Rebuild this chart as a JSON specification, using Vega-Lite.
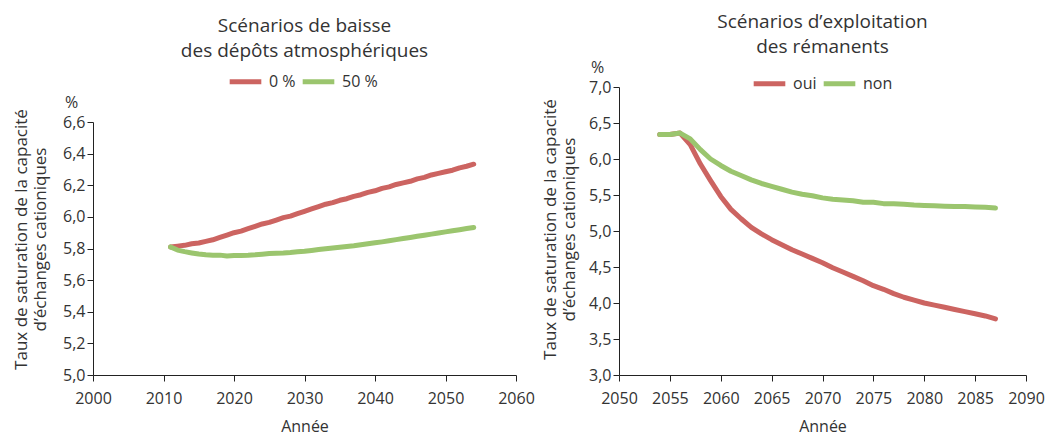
{
  "$schema": "https://vega.github.io/schema/vega-lite/v6.json",
  "background": "white",
  "padding": {"left": 12, "top": 13, "right": 5, "bottom": 0},
  "spacing": 6,
  "resolve": {"scale": {"color": "independent"}, "legend": {"color": "independent"}},
  "config": {
    "font": "Open Sans",
    "locale": {"number": {"decimal": ",", "thousands": " ", "grouping": [3], "currency": ["", " €"]}},
    "view": {"stroke": null},
    "axis": {"labelFontSize": 16, "titleFontSize": 16, "titleFontWeight": "normal", "labelColor": "#333", "titleColor": "#333", "domainColor": "#222", "tickColor": "#222", "grid": false, "tickSize": 6, "labelOverlap": false, "labelFlush": false},
    "axisX": {"labelPadding": 9, "titlePadding": 12},
    "axisY": {"labelPadding": 2},
    "legend": {"labelFontSize": 16, "labelColor": "#333", "symbolType": "stroke", "symbolStrokeWidth": 5, "symbolSize": 1000, "columnPadding": -4, "labelOffset": 5},
    "title": {"fontSize": 19, "fontWeight": "normal", "color": "#333", "lineHeight": 25, "anchor": "middle"}
  },
  "datasets": {
    "depots": [
      {"year": 2011, "scenario": "0 %", "value": 5.81}, {"year": 2012, "scenario": "0 %", "value": 5.815}, {"year": 2013, "scenario": "0 %", "value": 5.82}, {"year": 2014, "scenario": "0 %", "value": 5.83}, {"year": 2015, "scenario": "0 %", "value": 5.835}, {"year": 2016, "scenario": "0 %", "value": 5.845}, {"year": 2017, "scenario": "0 %", "value": 5.855}, {"year": 2018, "scenario": "0 %", "value": 5.87}, {"year": 2019, "scenario": "0 %", "value": 5.885}, {"year": 2020, "scenario": "0 %", "value": 5.9}, {"year": 2021, "scenario": "0 %", "value": 5.91}, {"year": 2022, "scenario": "0 %", "value": 5.925}, {"year": 2023, "scenario": "0 %", "value": 5.94}, {"year": 2024, "scenario": "0 %", "value": 5.955}, {"year": 2025, "scenario": "0 %", "value": 5.965}, {"year": 2026, "scenario": "0 %", "value": 5.98}, {"year": 2027, "scenario": "0 %", "value": 5.995}, {"year": 2028, "scenario": "0 %", "value": 6.005}, {"year": 2029, "scenario": "0 %", "value": 6.02}, {"year": 2030, "scenario": "0 %", "value": 6.035}, {"year": 2031, "scenario": "0 %", "value": 6.05}, {"year": 2032, "scenario": "0 %", "value": 6.065}, {"year": 2033, "scenario": "0 %", "value": 6.08}, {"year": 2034, "scenario": "0 %", "value": 6.09}, {"year": 2035, "scenario": "0 %", "value": 6.105}, {"year": 2036, "scenario": "0 %", "value": 6.115}, {"year": 2037, "scenario": "0 %", "value": 6.13}, {"year": 2038, "scenario": "0 %", "value": 6.14}, {"year": 2039, "scenario": "0 %", "value": 6.155}, {"year": 2040, "scenario": "0 %", "value": 6.165}, {"year": 2041, "scenario": "0 %", "value": 6.18}, {"year": 2042, "scenario": "0 %", "value": 6.19}, {"year": 2043, "scenario": "0 %", "value": 6.205}, {"year": 2044, "scenario": "0 %", "value": 6.215}, {"year": 2045, "scenario": "0 %", "value": 6.225}, {"year": 2046, "scenario": "0 %", "value": 6.24}, {"year": 2047, "scenario": "0 %", "value": 6.25}, {"year": 2048, "scenario": "0 %", "value": 6.265}, {"year": 2049, "scenario": "0 %", "value": 6.275}, {"year": 2050, "scenario": "0 %", "value": 6.285}, {"year": 2051, "scenario": "0 %", "value": 6.295}, {"year": 2052, "scenario": "0 %", "value": 6.31}, {"year": 2053, "scenario": "0 %", "value": 6.32}, {"year": 2054, "scenario": "0 %", "value": 6.333},
      {"year": 2011, "scenario": "50 %", "value": 5.81}, {"year": 2012, "scenario": "50 %", "value": 5.79}, {"year": 2013, "scenario": "50 %", "value": 5.78}, {"year": 2014, "scenario": "50 %", "value": 5.772}, {"year": 2015, "scenario": "50 %", "value": 5.765}, {"year": 2016, "scenario": "50 %", "value": 5.76}, {"year": 2017, "scenario": "50 %", "value": 5.758}, {"year": 2018, "scenario": "50 %", "value": 5.758}, {"year": 2019, "scenario": "50 %", "value": 5.752}, {"year": 2020, "scenario": "50 %", "value": 5.755}, {"year": 2021, "scenario": "50 %", "value": 5.756}, {"year": 2022, "scenario": "50 %", "value": 5.757}, {"year": 2023, "scenario": "50 %", "value": 5.76}, {"year": 2024, "scenario": "50 %", "value": 5.764}, {"year": 2025, "scenario": "50 %", "value": 5.768}, {"year": 2026, "scenario": "50 %", "value": 5.77}, {"year": 2027, "scenario": "50 %", "value": 5.772}, {"year": 2028, "scenario": "50 %", "value": 5.775}, {"year": 2029, "scenario": "50 %", "value": 5.779}, {"year": 2030, "scenario": "50 %", "value": 5.783}, {"year": 2031, "scenario": "50 %", "value": 5.788}, {"year": 2032, "scenario": "50 %", "value": 5.793}, {"year": 2033, "scenario": "50 %", "value": 5.798}, {"year": 2034, "scenario": "50 %", "value": 5.803}, {"year": 2035, "scenario": "50 %", "value": 5.808}, {"year": 2036, "scenario": "50 %", "value": 5.813}, {"year": 2037, "scenario": "50 %", "value": 5.818}, {"year": 2038, "scenario": "50 %", "value": 5.824}, {"year": 2039, "scenario": "50 %", "value": 5.83}, {"year": 2040, "scenario": "50 %", "value": 5.836}, {"year": 2041, "scenario": "50 %", "value": 5.842}, {"year": 2042, "scenario": "50 %", "value": 5.849}, {"year": 2043, "scenario": "50 %", "value": 5.856}, {"year": 2044, "scenario": "50 %", "value": 5.863}, {"year": 2045, "scenario": "50 %", "value": 5.87}, {"year": 2046, "scenario": "50 %", "value": 5.877}, {"year": 2047, "scenario": "50 %", "value": 5.884}, {"year": 2048, "scenario": "50 %", "value": 5.891}, {"year": 2049, "scenario": "50 %", "value": 5.898}, {"year": 2050, "scenario": "50 %", "value": 5.905}, {"year": 2051, "scenario": "50 %", "value": 5.912}, {"year": 2052, "scenario": "50 %", "value": 5.919}, {"year": 2053, "scenario": "50 %", "value": 5.926}, {"year": 2054, "scenario": "50 %", "value": 5.933}
    ],
    "remanents": [
      {"year": 2054, "scenario": "oui", "value": 6.34}, {"year": 2055, "scenario": "oui", "value": 6.34}, {"year": 2056, "scenario": "oui", "value": 6.36}, {"year": 2057, "scenario": "oui", "value": 6.2}, {"year": 2058, "scenario": "oui", "value": 5.93}, {"year": 2059, "scenario": "oui", "value": 5.7}, {"year": 2060, "scenario": "oui", "value": 5.48}, {"year": 2061, "scenario": "oui", "value": 5.3}, {"year": 2062, "scenario": "oui", "value": 5.17}, {"year": 2063, "scenario": "oui", "value": 5.05}, {"year": 2064, "scenario": "oui", "value": 4.96}, {"year": 2065, "scenario": "oui", "value": 4.88}, {"year": 2066, "scenario": "oui", "value": 4.81}, {"year": 2067, "scenario": "oui", "value": 4.74}, {"year": 2068, "scenario": "oui", "value": 4.68}, {"year": 2069, "scenario": "oui", "value": 4.62}, {"year": 2070, "scenario": "oui", "value": 4.56}, {"year": 2071, "scenario": "oui", "value": 4.49}, {"year": 2072, "scenario": "oui", "value": 4.43}, {"year": 2073, "scenario": "oui", "value": 4.37}, {"year": 2074, "scenario": "oui", "value": 4.31}, {"year": 2075, "scenario": "oui", "value": 4.24}, {"year": 2076, "scenario": "oui", "value": 4.19}, {"year": 2077, "scenario": "oui", "value": 4.13}, {"year": 2078, "scenario": "oui", "value": 4.08}, {"year": 2079, "scenario": "oui", "value": 4.04}, {"year": 2080, "scenario": "oui", "value": 4.0}, {"year": 2081, "scenario": "oui", "value": 3.97}, {"year": 2082, "scenario": "oui", "value": 3.94}, {"year": 2083, "scenario": "oui", "value": 3.91}, {"year": 2084, "scenario": "oui", "value": 3.88}, {"year": 2085, "scenario": "oui", "value": 3.85}, {"year": 2086, "scenario": "oui", "value": 3.82}, {"year": 2087, "scenario": "oui", "value": 3.78},
      {"year": 2054, "scenario": "non", "value": 6.34}, {"year": 2055, "scenario": "non", "value": 6.34}, {"year": 2056, "scenario": "non", "value": 6.36}, {"year": 2057, "scenario": "non", "value": 6.28}, {"year": 2058, "scenario": "non", "value": 6.13}, {"year": 2059, "scenario": "non", "value": 6.0}, {"year": 2060, "scenario": "non", "value": 5.91}, {"year": 2061, "scenario": "non", "value": 5.83}, {"year": 2062, "scenario": "non", "value": 5.77}, {"year": 2063, "scenario": "non", "value": 5.71}, {"year": 2064, "scenario": "non", "value": 5.66}, {"year": 2065, "scenario": "non", "value": 5.62}, {"year": 2066, "scenario": "non", "value": 5.58}, {"year": 2067, "scenario": "non", "value": 5.54}, {"year": 2068, "scenario": "non", "value": 5.51}, {"year": 2069, "scenario": "non", "value": 5.49}, {"year": 2070, "scenario": "non", "value": 5.46}, {"year": 2071, "scenario": "non", "value": 5.44}, {"year": 2072, "scenario": "non", "value": 5.43}, {"year": 2073, "scenario": "non", "value": 5.42}, {"year": 2074, "scenario": "non", "value": 5.4}, {"year": 2075, "scenario": "non", "value": 5.4}, {"year": 2076, "scenario": "non", "value": 5.38}, {"year": 2077, "scenario": "non", "value": 5.38}, {"year": 2078, "scenario": "non", "value": 5.37}, {"year": 2079, "scenario": "non", "value": 5.36}, {"year": 2080, "scenario": "non", "value": 5.355}, {"year": 2081, "scenario": "non", "value": 5.35}, {"year": 2082, "scenario": "non", "value": 5.345}, {"year": 2083, "scenario": "non", "value": 5.34}, {"year": 2084, "scenario": "non", "value": 5.34}, {"year": 2085, "scenario": "non", "value": 5.335}, {"year": 2086, "scenario": "non", "value": 5.33}, {"year": 2087, "scenario": "non", "value": 5.32}
    ]
  },
  "hconcat": [
    {
      "width": 423,
      "height": 288,
      "title": {"text": ["Scénarios de baisse", "des dépôts atmosphériques"], "offset": 2},
      "data": {"name": "depots"},
      "layer": [
        {
          "mark": {"type": "line", "strokeWidth": 5, "strokeCap": "round", "strokeJoin": "round"},
          "encoding": {
            "x": {"field": "year", "type": "quantitative", "scale": {"domain": [2000, 2060], "nice": false, "zero": false}, "axis": {"values": [2000, 2010, 2020, 2030, 2040, 2050, 2060], "format": "d", "title": "Année"}},
            "y": {"field": "value", "type": "quantitative", "scale": {"domain": [5.0, 6.6], "nice": false, "zero": false, "range": [288, 35]}, "axis": {"values": [5.0, 5.2, 5.4, 5.6, 5.8, 6.0, 6.2, 6.4, 6.6], "format": ".1f", "title": "%", "titleAngle": 0, "titleX": -22, "titleY": 20, "titleAlign": "center", "titleBaseline": "alphabetic"}},
            "color": {"field": "scenario", "type": "nominal", "scale": {"domain": ["0 %", "50 %"], "range": ["#cc6461", "#9bc56e"]}, "legend": {"orient": "none", "legendX": 134, "legendY": -24, "direction": "horizontal", "title": null}}
          }
        },
        {
          "mark": {"type": "line", "opacity": 0},
          "encoding": {
            "x": {"field": "year", "type": "quantitative", "scale": {"domain": [2000, 2060], "nice": false, "zero": false}},
            "y": {"field": "value", "type": "quantitative", "scale": {"domain": [5.0, 6.6], "nice": false, "zero": false, "range": [288, 35]}, "axis": {"orient": "left", "labels": false, "ticks": false, "domain": false, "title": ["Taux de saturation de la capacité", "d’échanges cationiques"], "titleFontSize": 17, "titleX": -72, "titleY": 152, "titleAngle": -90, "titleAlign": "center", "titleBaseline": "middle", "titleLineHeight": 19}},
            "detail": {"field": "scenario"}
          }
        }
      ],
      "resolve": {"axis": {"y": "independent"}}
    },
    {
      "width": 407,
      "height": 288,
      "title": {"text": ["Scénarios d’exploitation", "des rémanents"], "offset": 2},
      "data": {"name": "remanents"},
      "layer": [
        {
          "mark": {"type": "line", "strokeWidth": 5, "strokeCap": "round", "strokeJoin": "round"},
          "encoding": {
            "x": {"field": "year", "type": "quantitative", "scale": {"domain": [2050, 2090], "nice": false, "zero": false}, "axis": {"values": [2050, 2055, 2060, 2065, 2070, 2075, 2080, 2085, 2090], "format": "d", "title": "Année"}},
            "y": {"field": "value", "type": "quantitative", "scale": {"domain": [3.0, 7.0], "nice": false, "zero": false}, "axis": {"values": [3.0, 3.5, 4.0, 4.5, 5.0, 5.5, 6.0, 6.5, 7.0], "format": ".1f", "title": "%", "titleAngle": 0, "titleX": -22, "titleY": -15, "titleAlign": "center", "titleBaseline": "alphabetic"}},
            "color": {"field": "scenario", "type": "nominal", "scale": {"domain": ["oui", "non"], "range": ["#cc6461", "#9bc56e"]}, "legend": {"orient": "none", "legendX": 132, "legendY": -22, "direction": "horizontal", "title": null}}
          }
        },
        {
          "mark": {"type": "line", "opacity": 0},
          "encoding": {
            "x": {"field": "year", "type": "quantitative", "scale": {"domain": [2050, 2090], "nice": false, "zero": false}},
            "y": {"field": "value", "type": "quantitative", "scale": {"domain": [3.0, 7.0], "nice": false, "zero": false}, "axis": {"orient": "left", "labels": false, "ticks": false, "domain": false, "title": ["Taux de saturation de la capacité", "d’échanges cationiques"], "titleFontSize": 17, "titleX": -69, "titleY": 142, "titleAngle": -90, "titleAlign": "center", "titleBaseline": "middle", "titleLineHeight": 19}},
            "detail": {"field": "scenario"}
          }
        }
      ],
      "resolve": {"axis": {"y": "independent"}}
    }
  ]
}
